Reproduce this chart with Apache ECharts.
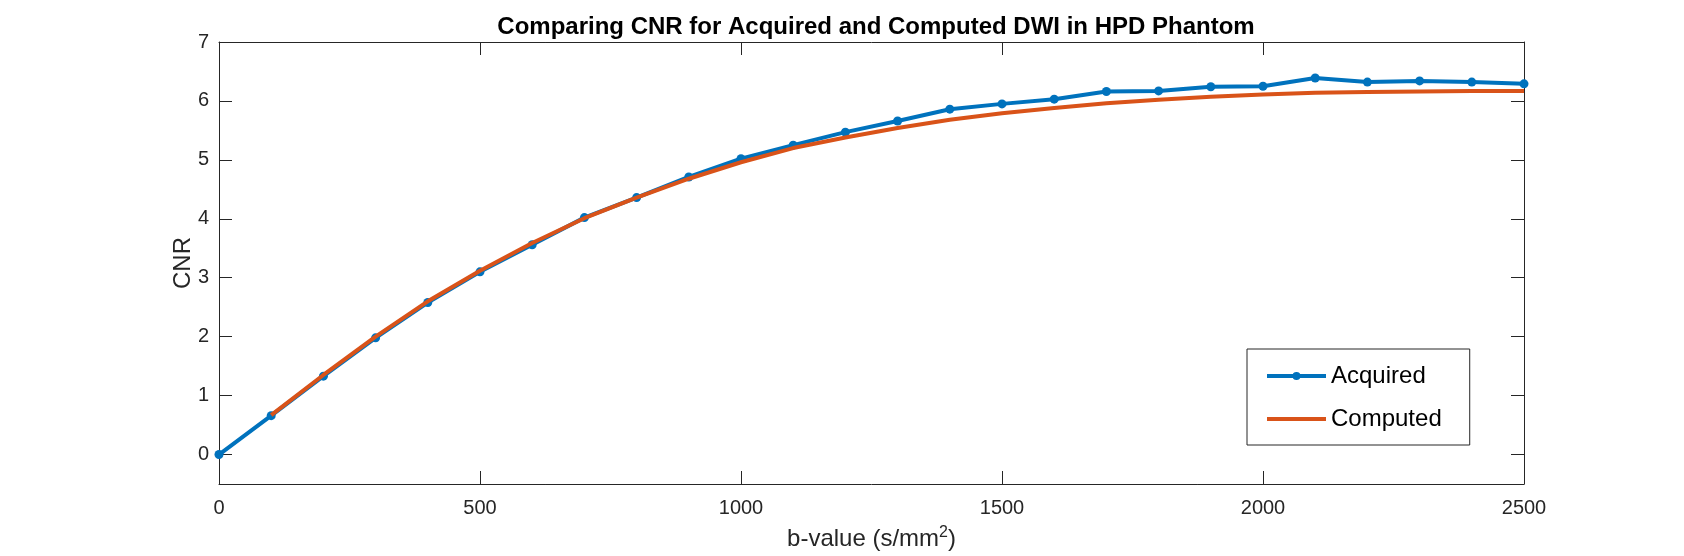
<!DOCTYPE html>
<html>
<head>
<meta charset="utf-8">
<script src="https://cdn.jsdelivr.net/npm/echarts@6/dist/echarts.min.js"></script>
<style>
html,body{margin:0;padding:0;background:#fff;}
#chart{width:1684px;height:556px;}
</style>
</head>
<body>
<div id="chart"></div>
<script>
const bValues = [0,100,200,300,400,500,600,700,800,900,1000,1100,1200,1300,1400,1500,1600,1700,1800,1900,2000,2100,2200,2300,2400,2500];
const acquired = [0,0.66,1.33,1.98,2.58,3.10,3.56,4.02,4.36,4.71,5.02,5.25,5.47,5.66,5.86,5.95,6.03,6.16,6.17,6.24,6.25,6.39,6.32,6.34,6.32,6.29];
const computedB = [100,200,300,400,500,600,700,800,900,1000,1100,1200,1300,1400,1500,1600,1700,1800,1900,2000,2100,2200,2300,2400,2500];
const computed = [0.67,1.35,2.00,2.60,3.12,3.59,4.01,4.36,4.68,4.96,5.20,5.38,5.54,5.68,5.79,5.88,5.96,6.02,6.07,6.11,6.14,6.15,6.16,6.17,6.17];
const yTicks = [0,1,2,3,4,5,6,7];

const FONT = "'Liberation Sans', Helvetica, Arial, sans-serif";
const AX = '#262626';

// legend icons (line with marker / plain line), bounding box 59 x 12
const ICON_LINE = 'path://M0,0 L0.01,0 L0,0.01 Z M0,4 L59,4 L59,8 L0,8 Z M59,12 L58.99,12 L59,11.99 Z';
const ICON_MARK = 'path://M0,0 L0.01,0 L0,0.01 Z M0,4 L59,4 L59,8 L0,8 Z M25.5,6 A4,4 0 1 1 33.5,6 A4,4 0 1 1 25.5,6 Z M59,12 L58.99,12 L59,11.99 Z';

const chart = echarts.init(document.getElementById('chart'));
chart.setOption({
  animation: false,
  backgroundColor: '#fff',
  textStyle: {fontFamily: FONT},
  title: {
    text: 'Comparing CNR for Acquired and Computed DWI in HPD Phantom',
    left: 871, top: 10, textAlign: 'center',
    textStyle: {fontFamily: FONT, fontWeight: 'bold', fontSize: 24, color: '#000'}
  },
  grid: {left: 219, right: 160, top: 42, bottom: 72},
  legend: {
    orient: 'vertical',
    left: 1247, top: 349,
    padding: [15, 28, 14, 20],
    itemGap: 19,
    itemWidth: 59, itemHeight: 12,
    borderColor: AX, borderWidth: 1, backgroundColor: '#fff', borderRadius: 0,
    textStyle: {fontFamily: FONT, fontSize: 24, color: '#000'},
    data: [{name: 'Acquired', icon: ICON_MARK}, {name: 'Computed', icon: ICON_LINE}]
  },
  xAxis: [{
    type: 'value', min: 0, max: 2500, interval: 500,
    name: 'b-value (s/mm{sup|2})', nameLocation: 'middle', nameGap: 41,
    nameTextStyle: {fontFamily: FONT, fontSize: 24, color: AX,
      rich: {sup: {fontFamily: FONT, fontSize: 16, color: AX, padding: [0,0,12,0]}}},
    axisLine: {show: true, onZero: false, lineStyle: {color: AX, width: 1}},
    axisTick: {show: true, inside: true, length: 13, lineStyle: {color: AX}},
    axisLabel: {fontFamily: FONT, fontSize: 20, color: AX, margin: 14, formatter: v => String(v)},
    splitLine: {show: false}
  }, {
    type: 'value', min: 0, max: 2500, interval: 500, position: 'top',
    axisLine: {show: true, onZero: false, lineStyle: {color: AX, width: 1}},
    axisTick: {show: true, inside: true, length: 13, lineStyle: {color: AX}},
    axisLabel: {show: false}, splitLine: {show: false}
  }],
  yAxis: [{
    type: 'value', min: -0.5, max: 7,
    name: 'CNR', nameLocation: 'middle', nameGap: 24, nameMoveOverlap: false,
    nameTextStyle: {fontFamily: FONT, fontSize: 24, color: AX},
    axisLine: {show: true, onZero: false, lineStyle: {color: AX, width: 1}},
    axisTick: {show: true, inside: true, length: 13, customValues: yTicks, lineStyle: {color: AX}},
    axisLabel: {fontFamily: FONT, fontSize: 20, color: AX, margin: 10, customValues: yTicks},
    splitLine: {show: false}
  }, {
    type: 'value', min: -0.5, max: 7, position: 'right',
    axisLine: {show: true, onZero: false, lineStyle: {color: AX, width: 1}},
    axisTick: {show: true, inside: true, length: 13, customValues: yTicks, lineStyle: {color: AX}},
    axisLabel: {show: false, customValues: yTicks}, splitLine: {show: false}
  }],
  series: [{
    name: 'Acquired', type: 'line',
    data: bValues.map((b, i) => [b, acquired[i]]),
    symbol: 'circle', symbolSize: 9,
    lineStyle: {color: '#0072BD', width: 4},
    itemStyle: {color: '#0072BD'},
    z: 2
  }, {
    name: 'Computed', type: 'line',
    data: computedB.map((b, i) => [b, computed[i]]),
    showSymbol: false, symbol: 'none',
    lineStyle: {color: '#D95319', width: 4},
    itemStyle: {color: '#D95319'},
    z: 3
  }]
});
</script>
</body>
</html>
